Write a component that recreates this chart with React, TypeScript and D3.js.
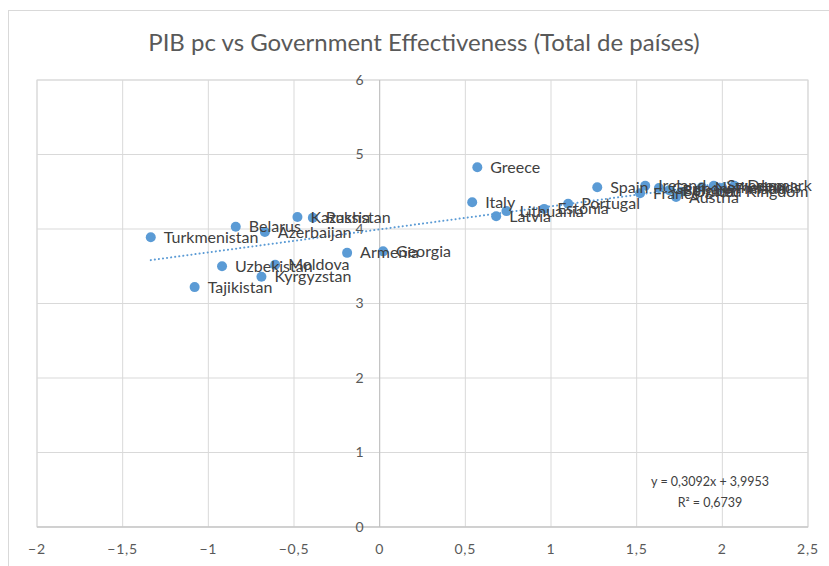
import React from 'react';
import * as d3 from 'd3';

const countries = [
  'Turkmenistan', 'Tajikistan', 'Uzbekistan', 'Belarus', 'Kyrgyzstan', 'Azerbaijan', 'Moldova',
  'Kazakhstan', 'Russia', 'Armenia', 'Georgia', 'Italy', 'Greece', 'Latvia', 'Lithuania',
  'Estonia', 'Portugal', 'Spain', 'France', 'Ireland', 'Germany', 'Belgium', 'Austria',
  'United Kingdom', 'Netherlands', 'Sweden', 'Finland', 'Denmark',
];
const effectiveness = [
  -1.336, -1.08, -0.92, -0.84, -0.69, -0.67, -0.61,
  -0.48, -0.39, -0.19, 0.02, 0.54, 0.57, 0.68, 0.74,
  0.96, 1.1, 1.27, 1.52, 1.55, 1.63, 1.69, 1.73,
  1.76, 1.88, 1.95, 2.0, 2.07,
];
const pibPc = [
  3.89, 3.22, 3.5, 4.03, 3.36, 3.96, 3.52,
  4.16, 4.15, 3.68, 3.7, 4.36, 4.83, 4.17, 4.24,
  4.27, 4.34, 4.56, 4.48, 4.58, 4.55, 4.52, 4.43,
  4.5, 4.56, 4.58, 4.55, 4.58,
];
const xTicks = [-2, -1.5, -1, -0.5, 0, 0.5, 1, 1.5, 2, 2.5];
const yTicks = [0, 1, 2, 3, 4, 5, 6];
const slope = 0.3092;
const intercept = 3.9953;
const rSquared = 0.6739;

const title = 'PIB pc vs Government Effectiveness (Total de países)';
const fontFamily = 'Lato, "Open Sans", sans-serif';

const locale = d3.formatLocale({ decimal: ',', thousands: '.', grouping: [3], currency: ['', '€'] });
const fmt = locale.format('~g');

export default function App() {
  const plot = { left: 37, right: 808, top: 80, bottom: 527 };
  const x = d3.scaleLinear().domain([-2, 2.5]).range([plot.left, plot.right]);
  const y = d3.scaleLinear().domain([0, 6]).range([plot.bottom, plot.top]);

  const [xMin, xMax] = d3.extent(effectiveness) as [number, number];
  const trend = d3.line<number>()
    .x(d => x(d))
    .y(d => y(slope * d + intercept));

  const points = countries.map((c, i) => ({ c, gx: effectiveness[i], gy: pibPc[i] }));

  return (
    <svg width={829} height={566} style={{ position: 'absolute', left: 0, top: 0, background: '#fff' }}
      fontFamily={fontFamily}>
      <rect x={8.5} y={10.5} width={900} height={600} fill="#fff" stroke="#d9d9d9" />
      <text x={424} y={51} textAnchor="middle" fontSize={24} fill="#595959">{title}</text>

      {/* grid */}
      {xTicks.map(t => (
        <line key={'gx' + t} x1={x(t)} x2={x(t)} y1={plot.top} y2={plot.bottom} stroke="#d9d9d9" />
      ))}
      {yTicks.map(t => (
        <line key={'gy' + t} x1={plot.left} x2={plot.right} y1={y(t)} y2={y(t)} stroke="#d9d9d9" />
      ))}
      <rect x={plot.left} y={plot.top} width={plot.right - plot.left} height={plot.bottom - plot.top}
        fill="none" stroke="#d9d9d9" />

      {/* axes */}
      <line x1={x(0)} x2={x(0)} y1={plot.top} y2={plot.bottom} stroke="#bfbfbf" />
      <line x1={plot.left} x2={plot.right} y1={y(0)} y2={y(0)} stroke="#bfbfbf" />
      {yTicks.map(t => (
        <text key={'ty' + t} x={x(0) - 16} y={y(t)} dy="0.35em" textAnchor="end" fontSize={14}
          fill="#595959">
          {fmt(t)}
        </text>
      ))}
      {xTicks.map(t => (
        <text key={'tx' + t} x={x(t)} y={549} dy="0.35em" textAnchor="middle" fontSize={14}
          letterSpacing={0.8} fill="#595959">
          {fmt(t)}
        </text>
      ))}

      {/* trendline */}
      <path d={trend([xMin, xMax]) || ''} fill="none" stroke="#5b9bd5" strokeWidth={2}
        strokeDasharray="0.1 4" strokeLinecap="round" />

      {/* points */}
      {points.map(p => (
        <circle key={'p' + p.c} cx={x(p.gx)} cy={y(p.gy)} r={5} fill="#5b9bd5" />
      ))}
      {points.map(p => (
        <text key={'l' + p.c} x={x(p.gx) + 13} y={y(p.gy)} dy="0.35em" fontSize={16} fill="#404040">
          {p.c}
        </text>
      ))}

      <text x={710} y={482} dy="0.35em" textAnchor="middle" fontSize={12.5} fill="#404040">
        {`y = ${fmt(slope)}x + ${fmt(intercept)}`}
      </text>
      <text x={710} y={503} dy="0.35em" textAnchor="middle" fontSize={12.5} fill="#404040">
        R² = {fmt(rSquared)}
      </text>
    </svg>
  );
}
